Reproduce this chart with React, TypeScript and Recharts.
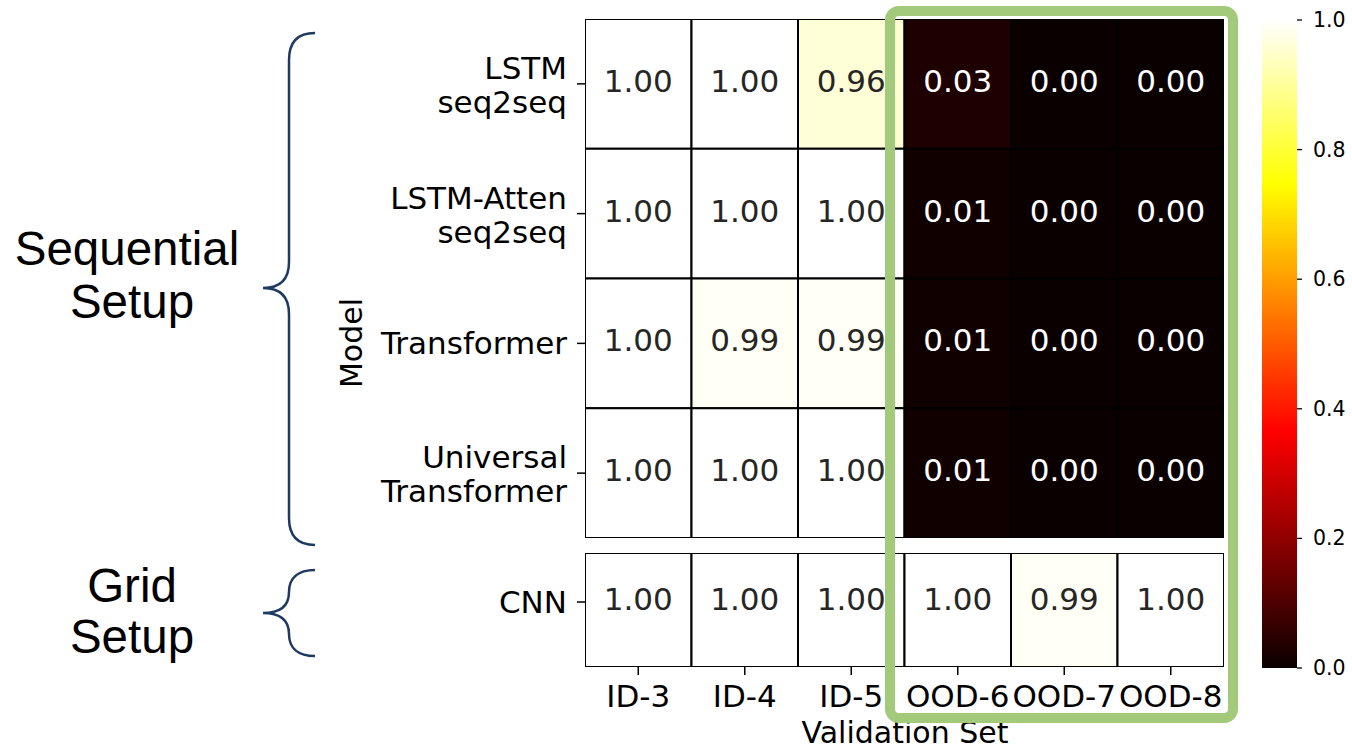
import React from 'react';
import { ScatterChart, Scatter, XAxis, YAxis, BarChart, Bar } from 'recharts';

// validation sets (columns)
const COLS = ['ID-3', 'ID-4', 'ID-5', 'OOD-6', 'OOD-7', 'OOD-8'];

// sequential setup models (rows)
const SEQ_MODELS = ['LSTM\nseq2seq', 'LSTM-Atten\nseq2seq', 'Transformer', 'Universal\nTransformer'];
const LSTM_S2S = [1.0, 1.0, 0.96, 0.03, 0.0, 0.0];
const LSTM_ATTEN = [1.0, 1.0, 1.0, 0.01, 0.0, 0.0];
const TRANSFORMER = [1.0, 0.99, 0.99, 0.01, 0.0, 0.0];
const UNIV_TRANSFORMER = [1.0, 1.0, 1.0, 0.01, 0.0, 0.0];

// grid setup
const GRID_MODELS = ['CNN'];
const CNN = [1.0, 1.0, 1.0, 1.0, 0.99, 1.0];

const CBAR_TICKS = [0, 0.2, 0.4, 0.6, 0.8, 1.0];

const FONT = '"DejaVu Sans", sans-serif';
const W = 1352;
const H = 750;
const PLOT_L = 585;
const PLOT_R = 1224;
const CELL_W = (PLOT_R - PLOT_L) / COLS.length;

const SEQ_TOP = 19;
const SEQ_BOTTOM = 538;
const SEQ_CELL_H = (SEQ_BOTTOM - SEQ_TOP) / SEQ_MODELS.length;

const GRID_TOP = 553;
const GRID_BOTTOM = 667;

const CBAR_L = 1262;
const CBAR_R = 1297;

// matplotlib "hot" colormap
function hot(v: number) {
  const r = v < 0.365079 ? 0.0416 + (v / 0.365079) * (1 - 0.0416) : 1;
  const g = v < 0.365079 ? 0 : v < 0.746032 ? (v - 0.365079) / (0.746032 - 0.365079) : 1;
  const b = v < 0.746032 ? 0 : (v - 0.746032) / (1 - 0.746032);
  const h = (x: number) => Math.round(Math.max(0, Math.min(1, x)) * 255).toString(16).padStart(2, '0');
  return `#${h(r)}${h(g)}${h(b)}`;
}

const toPoints = (rows: number[][]) =>
  rows.flatMap((row, r) => row.map((v, c) => ({ x: c, y: r, v })));

const seqPoints = toPoints([LSTM_S2S, LSTM_ATTEN, TRANSFORMER, UNIV_TRANSFORMER]);
const gridPoints = toPoints([CNN]);

// cell drawn around the point: `above` px over its centre, `below` px under it
const makeCell = (above: number, below: number) => (props: any) => {
  const { cx, cy, payload } = props;
  return (
    <g>
      <rect
        x={cx - CELL_W / 2}
        y={cy - above}
        width={CELL_W}
        height={above + below}
        fill={hot(payload.v)}
        stroke="#000"
        strokeWidth={2}
      />
      <text
        x={cx}
        y={cy + 8}
        textAnchor="middle"
        fontSize={31}
        fontFamily={FONT}
        fill={payload.v > 0.5 ? '#262626' : '#ffffff'}
      >
        {payload.v.toFixed(2)}
      </text>
    </g>
  );
};

const ModelTick = (labels: string[]) => (props: any) => {
  const { x, y, payload } = props;
  const lines = labels[payload.value].split('\n');
  const y0 = lines.length === 1 ? y + 11 : y - 5;
  return (
    <text x={x} y={y0} textAnchor="end" fontSize={31} fontFamily={FONT} fill="#000">
      {lines.map((l, i) => (
        <tspan key={i} x={x} dy={i === 0 ? 0 : 34}>
          {l}
        </tspan>
      ))}
    </text>
  );
};

const CbarTick = (props: any) => {
  const { x, y, payload } = props;
  return (
    <text x={x} y={y + 7} textAnchor="start" fontSize={20.5} fontFamily={FONT} fill="#000">
      {Number(payload.value).toFixed(1)}
    </text>
  );
};

const abs: React.CSSProperties = { position: 'absolute', left: 0, top: 0 };

export default function App() {
  return (
    <div style={{ position: 'absolute', left: 0, top: 0, width: W, height: H, background: '#fff', overflow: 'hidden' }}>
      <div style={abs}>
        <ScatterChart
          width={W}
          height={H}
          margin={{ top: SEQ_TOP, bottom: H - SEQ_BOTTOM, left: PLOT_L - 220, right: W - PLOT_R }}
        >
          <XAxis type="number" dataKey="x" domain={[-0.5, 5.5]} hide allowDataOverflow />
          <YAxis
            type="number"
            dataKey="y"
            width={220}
            domain={[-0.5, 3.5]}
            reversed
            allowDataOverflow
            ticks={[0, 1, 2, 3]}
            interval={0}
            axisLine={false}
            tickSize={8}
            tickMargin={10}
            tickLine={{ stroke: '#000', strokeWidth: 1.5 }}
            tick={ModelTick(SEQ_MODELS)}
          />
          <Scatter
            data={seqPoints}
            shape={makeCell(SEQ_CELL_H / 2, SEQ_CELL_H / 2)}
            isAnimationActive={false}
          />
        </ScatterChart>
      </div>

      <div style={abs}>
        <ScatterChart
          width={W}
          height={H}
          margin={{ top: GRID_TOP, bottom: 0, left: PLOT_L - 220, right: W - PLOT_R }}
        >
          <XAxis
            type="number"
            dataKey="x"
            domain={[-0.5, 5.5]}
            allowDataOverflow
            ticks={[0, 1, 2, 3, 4, 5]}
            interval={0}
            height={H - GRID_BOTTOM}
            axisLine={false}
            tickSize={8}
            tickMargin={10}
            tickLine={{ stroke: '#000', strokeWidth: 1.5 }}
            tickFormatter={(i: number) => COLS[i]}
            tick={{ fill: '#000', fontSize: 31, fontFamily: FONT }}
          />
          <YAxis
            type="number"
            dataKey="y"
            width={220}
            domain={[-0.663, 0.5]}
            allowDataOverflow
            ticks={[0]}
            interval={0}
            axisLine={false}
            tickSize={8}
            tickMargin={10}
            tickLine={{ stroke: '#000', strokeWidth: 1.5 }}
            tick={ModelTick(GRID_MODELS)}
          />
          <Scatter data={gridPoints} shape={makeCell(49, 65)} isAnimationActive={false} />
        </ScatterChart>
      </div>

      {/* colorbar */}
      <div style={abs}>
        <BarChart
          width={W}
          height={H}
          data={[{ name: 'cbar', v: 1 }]}
          margin={{ top: 20, bottom: H - 668, left: CBAR_L, right: 0 }}
          barCategoryGap={0}
          barGap={0}
        >
          <defs>
            <linearGradient id="hotGrad" x1="0" y1="1" x2="0" y2="0">
              <stop offset="0" stopColor="#0b0000" />
              <stop offset="0.365079" stopColor="#ff0000" />
              <stop offset="0.746032" stopColor="#ffff00" />
              <stop offset="1" stopColor="#ffffff" />
            </linearGradient>
          </defs>
          <XAxis dataKey="name" type="category" hide />
          <YAxis
            orientation="right"
            type="number"
            width={W - CBAR_R}
            domain={[0, 1]}
            ticks={CBAR_TICKS}
            interval={0}
            axisLine={false}
            tickSize={5}
            tickMargin={11}
            tickLine={{ stroke: '#000', strokeWidth: 1.3 }}
            tick={CbarTick}
          />
          <Bar dataKey="v" fill="url(#hotGrad)" isAnimationActive={false} />
        </BarChart>
      </div>

      <svg style={{ ...abs, pointerEvents: 'none' }} width={W} height={H}>
        <text
          transform="translate(362,343) rotate(-90)"
          textAnchor="middle"
          fontSize={30}
          fontFamily={FONT}
          fill="#000"
        >
          Model
        </text>
        <text x={905} y={743} textAnchor="middle" fontSize={30} fontFamily={FONT} fill="#000">
          Validation Set
        </text>

        <path
          d="M315,33 C298,33 289,42 289,60 L289,262 C289,280 280,288 263,288 C280,288 289,296 289,314 L289,518 C289,536 298,545 315,545"
          fill="none"
          stroke="#1f3a60"
          strokeWidth={2.5}
        />
        <path
          d="M315,570 C298,570 289,578 289,592 C289,606 280,613 263,613 C280,613 289,620 289,634 C289,648 298,656 315,656"
          fill="none"
          stroke="#1f3a60"
          strokeWidth={2.5}
        />

        <g fontFamily='"Liberation Sans", Arial, sans-serif' fontSize={47.5} fill="#000" textAnchor="middle">
          <text x={127} y={265}>Sequential</text>
          <text x={132} y={318}>Setup</text>
          <text x={132} y={602}>Grid</text>
          <text x={132} y={653}>Setup</text>
        </g>

        <rect x={890} y={11} width={343} height={707} rx={9} ry={9} fill="none" stroke="#a3c97a" strokeWidth={10} />
      </svg>
    </div>
  );
}
